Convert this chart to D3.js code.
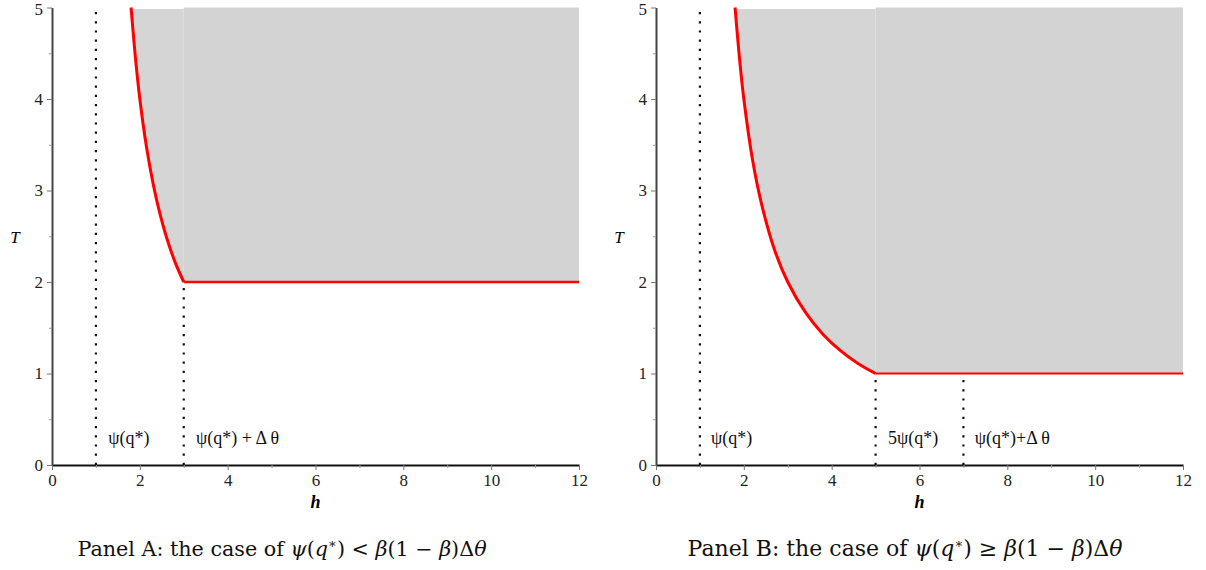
<!DOCTYPE html>
<html>
<head>
<meta charset="utf-8">
<script src="https://cdn.jsdelivr.net/npm/d3@7"></script>
<style>
  body { margin: 0; background: #fff; }
  svg text { font-family: "Liberation Serif", "DejaVu Serif", serif; }
</style>
</head>
<body>
<div id="chart"></div>
<script>
// axis ticks
const hTicks = [0, 2, 4, 6, 8, 10, 12]
const hMinor = [1, 3, 5, 7, 9, 11]
const tTicks = [0, 1, 2, 3, 4, 5]
const tMinor = [0.5, 1.5, 2.5, 3.5, 4.5]

const curveA = [[1.8, 5], [1.9, 4.45], [2.0, 4.0], [2.15, 3.48], [2.3, 3.08], [2.45, 2.76], [2.6, 2.5], [2.8, 2.22], [3.0, 2.0]]
const floorA = [[3, 2], [12, 2]]
const guidesA = [{h: 1, top: 5}, {h: 3, top: 2}]
const labelsA = [{h: 1.28, text: 'ψ(q*)'}, {h: 3.28, text: 'ψ(q*) + Δ θ'}]

// Panel B
const curveB = [[1.8, 5], [1.9, 4.45], [2.0, 4.0], [2.2, 3.33], [2.4, 2.86], [2.7, 2.35], [3.0, 2.0], [3.4, 1.67], [3.8, 1.43], [4.2, 1.25], [4.6, 1.11], [5.0, 1.0]]
const floorB = [[5, 1], [12, 1]]
const guidesB = [{h: 1, top: 5}, {h: 5, top: 1}, {h: 7, top: 1}]
const labelsB = [{h: 1.25, text: 'ψ(q*)'}, {h: 5.28, text: '5ψ(q*)'}, {h: 7.26, text: 'ψ(q*)+Δ θ'}]

const tTop = 5

const svg = d3.select('#chart').append('svg')
    .attr('width', 1206)
    .attr('height', 570)

function drawPanel(opt) {
    const x = d3.scaleLinear().domain([0, 12]).range([opt.x0, opt.x1])
    const y = d3.scaleLinear().domain([0, 5]).range([465, 7.5])
    const g = svg.append('g')

    // shaded region above the curve (slightly lighter left of the corner)
    g.append('path')
        .datum(opt.curve)
        .attr('d', d3.area()
            .x(d => x(d[0]))
            .y0(d => y(d[1]))
            .y1(y(tTop) + 1.5)
            .curve(d3.curveCatmullRom))
        .attr('fill', '#d5d5d5')
    g.append('path')
        .datum(opt.floor)
        .attr('d', d3.area()
            .x(d => x(d[0]))
            .y0(d => y(d[1]))
            .y1(y(tTop)))
        .attr('fill', '#d3d3d3')

    // dotted guides
    g.selectAll('.guide')
        .data(opt.guides)
        .enter()
        .append('line')
        .attr('x1', d => x(d.h))
        .attr('x2', d => x(d.h))
        .attr('y1', y(0))
        .attr('y2', d => y(d.top))
        .attr('stroke', '#111')
        .attr('stroke-width', 2.2)
        .attr('stroke-dasharray', '2.2,7')

    // red boundary
    g.append('path')
        .datum(opt.curve)
        .attr('d', d3.line().x(d => x(d[0])).y(d => y(d[1])).curve(d3.curveCatmullRom))
        .attr('fill', 'none')
        .attr('stroke', '#ff0000')
        .attr('stroke-width', 3)
    g.append('path')
        .datum(opt.floor)
        .attr('d', d3.line().x(d => x(d[0])).y(d => y(d[1])))
        .attr('fill', 'none')
        .attr('stroke', '#ff0000')
        .attr('stroke-width', opt.floorWidth)

    // labels near the h axis
    g.selectAll('.lab')
        .data(opt.labels)
        .enter()
        .append('text')
        .attr('x', d => x(d.h))
        .attr('y', y(0) - 21)
        .style('font-size', '18px')
        .attr('fill', '#111')
        .text(d => d.text)

    // axes
    const xAxis = g.append('g')
        .attr('transform', 'translate(0,' + y(0) + ')')
        .call(d3.axisBottom(x).tickValues(hTicks).tickFormat(d3.format('d')).tickSize(5).tickSizeOuter(0).tickPadding(4))
    xAxis.select('.domain').attr('stroke', '#111').attr('stroke-width', 2)
    xAxis.selectAll('.tick line').attr('stroke', '#777')
    xAxis.selectAll('text').style('font-size', '17px').attr('fill', '#222')
    g.append('g')
        .attr('transform', 'translate(0,' + y(0) + ')')
        .call(d3.axisBottom(x).tickValues(hMinor).tickSize(3).tickFormat(''))
        .call(s => s.select('.domain').remove())
        .selectAll('line').attr('stroke', '#999')

    const yAxis = g.append('g')
        .attr('transform', 'translate(' + opt.x0 + ',0)')
        .call(d3.axisLeft(y).tickValues(tTicks).tickFormat(d3.format('d')).tickSize(5).tickSizeOuter(0).tickPadding(4))
    yAxis.select('.domain').attr('stroke', '#444').attr('stroke-width', 2)
    yAxis.selectAll('.tick line').attr('stroke', '#777')
    yAxis.selectAll('text').style('font-size', '17px').attr('fill', '#222')
        .attr('dy', d => d === tTop ? '0.42em' : '0.32em')
    g.append('g')
        .attr('transform', 'translate(' + opt.x0 + ',0)')
        .call(d3.axisLeft(y).tickValues(tMinor).tickSize(3).tickFormat(''))
        .call(s => s.select('.domain').remove())
        .selectAll('line').attr('stroke', '#999')

    // axis titles
    g.append('text')
        .attr('x', x(6))
        .attr('y', 508)
        .attr('text-anchor', 'middle')
        .style('font-size', '18px')
        .attr('font-style', 'italic')
        .attr('font-weight', 'bold')
        .text('h')
    g.append('text')
        .attr('x', opt.x0 - 37)
        .attr('y', 243)
        .attr('text-anchor', 'middle')
        .style('font-size', '17px')
        .attr('font-style', 'italic')
        .text('T')

    // caption
    const cap = g.append('text')
        .attr('x', opt.capX)
        .attr('y', 556)
        .attr('text-anchor', 'middle')
        .style('font-family', '"DejaVu Serif", serif')
        .style('font-size', opt.capSize + 'px')
        .attr('fill', '#111')
    cap.append('tspan').text(opt.title + ': the case of ')
    cap.append('tspan').attr('font-style', 'italic').text('ψ')
    cap.append('tspan').text('(')
    cap.append('tspan').attr('font-style', 'italic').text('q')
    cap.append('tspan').style('font-size', '13px').attr('dy', -8).text('∗')
    cap.append('tspan').attr('dy', 8).text(') ' + opt.rel + ' ')
    cap.append('tspan').attr('font-style', 'italic').text('β')
    cap.append('tspan').text('(1 − ')
    cap.append('tspan').attr('font-style', 'italic').text('β')
    cap.append('tspan').text(')Δ')
    cap.append('tspan').attr('font-style', 'italic').text('θ')
}

drawPanel({x0: 52, x1: 579, curve: curveA, floor: floorA, guides: guidesA, labels: labelsA,
    floorWidth: 2.6, title: 'Panel A', rel: '<', capX: 282, capSize: 20.7})
drawPanel({x0: 656, x1: 1183, curve: curveB, floor: floorB, guides: guidesB, labels: labelsB,
    floorWidth: 2, title: 'Panel B', rel: '≥', capX: 905, capSize: 22})
</script>
</body>
</html>
